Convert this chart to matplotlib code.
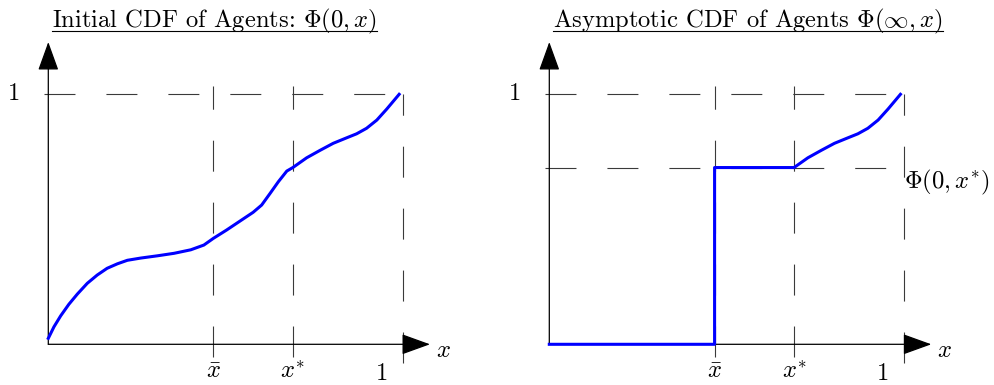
import matplotlib
matplotlib.use('Agg')
import matplotlib.pyplot as plt

plt.rcParams['font.family'] = 'serif'
plt.rcParams['font.serif'] = ['cmr10', 'DejaVu Serif']
plt.rcParams['mathtext.fontset'] = 'cm'
plt.rcParams['axes.formatter.use_mathtext'] = True
plt.rcParams['lines.scale_dashes'] = False

# Initial CDF Phi(0, x)
x0 = [0.0, 0.016, 0.035, 0.058, 0.082, 0.110, 0.138, 0.166, 0.195, 0.223,
      0.261, 0.308, 0.355, 0.402, 0.439, 0.466, 0.503, 0.541, 0.578, 0.602,
      0.626, 0.649, 0.673, 0.690, 0.729, 0.767, 0.804, 0.842, 0.870, 0.898,
      0.927, 0.955, 0.990]
phi0 = [0.024, 0.070, 0.114, 0.160, 0.201, 0.244, 0.277, 0.304, 0.322, 0.336,
        0.345, 0.354, 0.364, 0.378, 0.397, 0.424, 0.457, 0.493, 0.528, 0.557,
        0.604, 0.650, 0.693, 0.707, 0.746, 0.776, 0.804, 0.826, 0.842, 0.864,
        0.897, 0.941, 1.0]

xbar = 0.466
xstar = 0.690
phi_star = 0.707

tick_pos = [xbar, xstar]
tick_lab = [r'$\bar{x}$', r'$x^{*}$']

fs = 17.7
dash = (22.3, 22.3)
blue = '#0000ff'
gray = '#3a3a3a'

fig = plt.figure(figsize=(9.95, 3.85), dpi=100)
ax1 = fig.add_axes([48.3 / 995, 40.7 / 385, 354.4 / 995, 250 / 385])
ax2 = fig.add_axes([549.3 / 995, 40.7 / 385, 354.7 / 995, 250 / 385])


def frame(ax, title, hlines):
    ax.set_xlim(0, 1)
    ax.set_ylim(0, 1)
    ax.axis('off')
    # axes with arrow heads
    arw = dict(arrowstyle='-|>,head_length=1.8,head_width=0.65', mutation_scale=10,
               lw=0.9, color='black', shrinkA=0, shrinkB=0)
    ax.annotate('', xy=(0, 1.209), xytext=(0, 0), arrowprops=arw, annotation_clip=False)
    ax.annotate('', xy=(1.077, 0), xytext=(0, 0), arrowprops=arw, annotation_clip=False)
    # dashed guides
    for h in hlines:
        ax.plot([-0.012, 1.0], [h, h], color=gray, lw=0.8, dashes=dash, clip_on=False)
    for v in tick_pos:
        ax.plot([v, v], [-0.051, 1.033], color=gray, lw=0.8, dashes=dash, clip_on=False)
    ax.plot([1.0, 1.0], [-0.075, 1.0], color=gray, lw=0.8, dashes=dash, clip_on=False)
    # labels
    for v, lab in zip(tick_pos, tick_lab):
        ax.text(v, -0.068, lab, ha='center', va='top', fontsize=fs)
    ax.text(0.942, -0.075, '1', ha='center', va='top', fontsize=fs)
    ax.text(-0.08, 1.0, '1', ha='right', va='center', fontsize=fs)
    ax.text(1.114, -0.027, r'$x$', ha='center', va='center', fontsize=fs)
    t = ax.text(0.01, 1.269, title, ha='left', va='baseline', fontsize=fs)
    # underline the title
    r = fig.canvas.get_renderer()
    bb = t.get_window_extent(renderer=r).transformed(ax.transData.inverted())
    ax.plot([bb.x0, bb.x1], [1.253, 1.253], color='black', lw=0.8, clip_on=False)


frame(ax1, r'Initial CDF of Agents: $\Phi(0,x)$', [1.0])
ax1.plot(x0, phi0, color=blue, lw=2.2, clip_on=False, zorder=5,
         solid_joinstyle='round')

frame(ax2, r'Asymptotic CDF of Agents $\Phi(\infty,x)$', [1.0, phi_star])
x_inf = [0.0, xbar, xbar] + [v for v in x0 if v >= xstar]
phi_inf = [0.0, 0.0, phi_star] + [p for v, p in zip(x0, phi0) if v >= xstar]
ax2.plot(x_inf, phi_inf, color=blue, lw=2.2, clip_on=False, zorder=5,
         solid_joinstyle='round')
ax2.text(1.0, phi_star, r'$\Phi(0,x^{*})$', ha='left', va='top', fontsize=fs)

fig.savefig('out.png', dpi=100)
